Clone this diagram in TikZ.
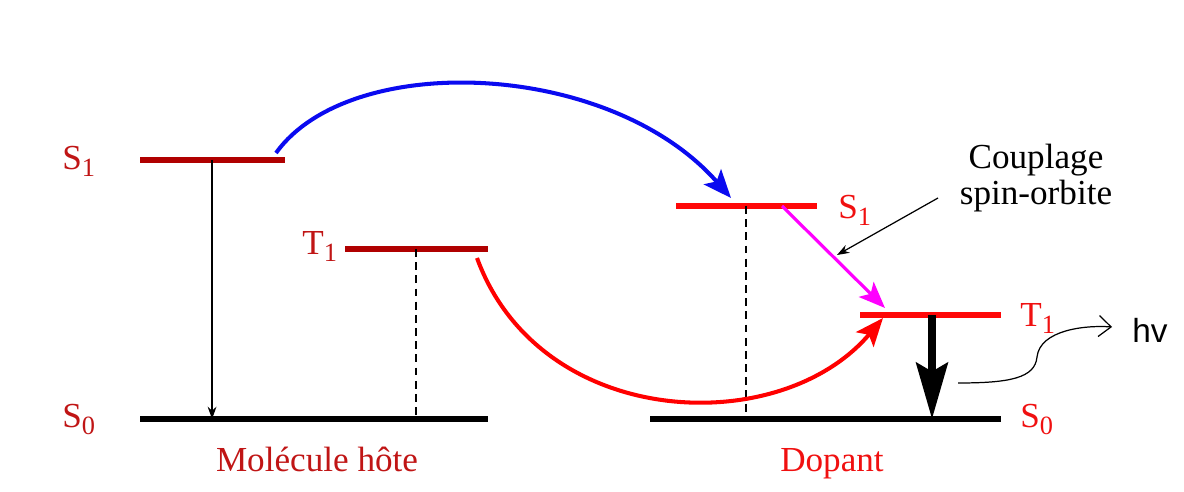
\documentclass[tikz,border=0pt]{standalone}
\usepackage{fontspec}
\setmainfont{Liberation Serif}
\newfontfamily\hvfont{Liberation Sans}
\usetikzlibrary{arrows.meta,positioning,calc}
\definecolor{HostRed}{HTML}{B00000}
\definecolor{HostText}{HTML}{C01515}
\definecolor{DopRed}{HTML}{FF0808}
\definecolor{DopText}{HTML}{F01010}
\definecolor{TransBlue}{HTML}{0A0AF0}
\definecolor{TransMagenta}{HTML}{FF00FF}
\newcommand{\lvlname}[2]{#1\raisebox{-0.4ex}{\fontsize{15}{15}\selectfont #2}}

\begin{document}
\begin{tikzpicture}[
  x=0.02cm,y=-0.02cm,
  lvlhost/.style={
    line width=3.4pt,
    draw=HostRed
  },
  lvldop/.style={
    line width=3.4pt,
    draw=DopRed
  },
  lvlground/.style={
    line width=3.4pt,
    draw=black
  },
  lvllabel/.style={
    anchor=base west,
    inner sep=0pt,
    font=\fontsize{20}{22}\selectfont
  },
  molname/.style={
    anchor=base,
    inner sep=0pt,
    font=\fontsize{20}{22}\selectfont
  },
  transfer/.style={
    line width=2.3pt,
    -{Stealth[length=16pt,width=13pt,inset=3.5pt]}
  },
  decay/.style={
    line width=0.7pt,
    -{Stealth[length=7pt,width=5pt]}
  },
  nonrad/.style={
    line width=1.2pt,
    dash pattern=on 4.5pt off 3pt
  }
]
\useasboundingbox (0,0) rectangle (1184,492);

% -------------------------------------------------
% Host molecule levels
% -------------------------------------------------
\coordinate (hS1a) at (140,160);
\coordinate (hS1b) at (285,160);
\coordinate (hT1a) at (345,249);
\coordinate (hT1b) at (488,249);
\coordinate (hS0a) at (140,419);
\coordinate (hS0b) at (488,419);

\draw[lvlhost] (hS1a) -- (hS1b);
\draw[lvlhost] (hT1a) -- (hT1b);
\draw[lvlground] (hS0a) -- (hS0b);

\node[lvllabel, text=HostText] (hS1lbl) at (62,170) {\lvlname{S}{1}};
\node[lvllabel, text=HostText] (hT1lbl) at (302,255) {\lvlname{T}{1}};
\node[lvllabel, text=HostText] (hS0lbl) at (62,428) {\lvlname{S}{0}};
\node[molname, text=HostText] (hostname) at (317,472) {Molécule hôte};

% -------------------------------------------------
% Dopant levels
% -------------------------------------------------
\coordinate (dS1a) at (676,206);
\coordinate (dS1b) at (817,206);
\coordinate (dT1a) at (860,315);
\coordinate (dT1b) at (1001,315);
\coordinate (dS0a) at (650,419);
\coordinate (dS0b) at (1001,419);

\draw[lvldop] (dS1a) -- (dS1b);
\draw[lvldop] (dT1a) -- (dT1b);
\draw[lvlground] (dS0a) -- (dS0b);

\node[lvllabel, text=DopText] (dS1lbl) at (838,219) {\lvlname{S}{1}};
\node[lvllabel, text=DopText] (dT1lbl) at (1020,327) {\lvlname{T}{1}};
\node[lvllabel, text=DopText] (dS0lbl) at (1020,428) {\lvlname{S}{0}};
\node[molname, text=DopText] (dopname) at (832,472) {Dopant};

% -------------------------------------------------
% Vertical transitions
% -------------------------------------------------
\coordinate (hS1x) at ($(hS1a)!0.497!(hS1b)$);
\coordinate (hS0x) at (hS1x |- hS0a);
\draw[decay] (hS1x) -- (hS0x);

\coordinate (hT1x) at (416,249);
\draw[nonrad] (hT1x) -- (hT1x |- hS0a);

\coordinate (dS1x) at (746,206);
\draw[nonrad] (dS1x) -- (dS1x |- dS0a);

\coordinate (dT1x) at (932,315);
\draw[line width=4.2pt, -{Stealth[length=32pt,width=18pt,inset=5pt]}]
  (dT1x) -- (dT1x |- dS0a);

% -------------------------------------------------
% Energy transfer host -> dopant
% -------------------------------------------------
\coordinate (blueA) at (276,153);
\coordinate (blueB) at (731,198);
\draw[transfer, draw=TransBlue]
  (blueA) .. controls (350,50) and (610,60) .. (blueB);

\coordinate (redA) at (477,258);
\coordinate (redB) at (883,318);
\draw[transfer, draw=red]
  (redA) .. controls (540,430) and (780,440) .. (redB);

% intersystem crossing in the dopant
\coordinate (iscA) at (782,206);
\coordinate (iscB) at (885,308);
\draw[line width=1.8pt, draw=TransMagenta,
  -{Stealth[length=15pt,width=12pt,inset=3.5pt]}] (iscA) -- (iscB);

% -------------------------------------------------
% Annotations
% -------------------------------------------------
\node[align=center, inner sep=0pt, font=\fontsize{20}{20.5}\selectfont]
  (coupl) at (1036,178) {Couplage\\spin-orbite};
\coordinate (cplfrom) at (938,198);
\coordinate (cplto) at (837,255);
\draw[decay] (cplfrom) -- (cplto);

\node[inner sep=0pt, font=\hvfont\fontsize{19}{20}\selectfont] (hv) at (1150,330) {hv};
\coordinate (waveA) at (958,383);
\coordinate (waveB) at (1112,327);
\draw[line width=0.7pt, -{Straight Barb[length=7pt,width=12pt]}]
  (waveA) .. controls (1010,383) and (1035,378) .. (1037,357)
  .. controls (1040,330) and (1085,325) .. (waveB);

\end{tikzpicture}
\end{document}
